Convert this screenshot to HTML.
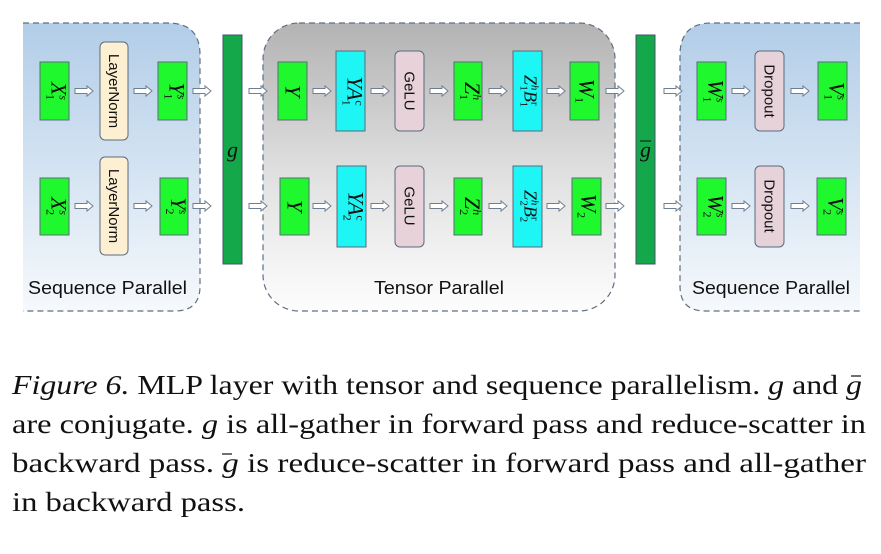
<!DOCTYPE html>
<html><head><meta charset="utf-8"><style>
html,body{margin:0;padding:0;background:#fff;}
svg{display:block;}
</style></head><body>
<svg width="881" height="554" viewBox="0 0 881 554" xmlns="http://www.w3.org/2000/svg">
<defs>
<linearGradient id="blue" x1="0" y1="0" x2="0" y2="1">
<stop offset="0" stop-color="#b2cde8"/><stop offset="1" stop-color="#f6f9fc"/>
</linearGradient>
<linearGradient id="gray" x1="0" y1="0" x2="0" y2="1">
<stop offset="0" stop-color="#b3b3b3"/><stop offset="0.55" stop-color="#e2e2e2"/><stop offset="1" stop-color="#fdfdfd"/>
</linearGradient>
<g id="arr"><path d="M0,-2.5 L12,-2.5 L12,-5 L18,0 L12,5 L12,2.5 L0,2.5 Z" fill="#fff" stroke="#6f7f90" stroke-width="1"/></g>
</defs>
<path d="M23,23 L168,23 Q200,23 200,55 L200,286 Q200,311 175,311 L23,311 Z" fill="url(#blue)"/>
<path d="M23,23 L168,23 Q200,23 200,55 L200,286 Q200,311 175,311 L23,311" fill="none" stroke="#5f6f80" stroke-width="1.2" stroke-dasharray="6,4"/>
<rect x="263" y="23" width="352" height="288" rx="36" fill="url(#gray)" stroke="#5f6f80" stroke-width="1.2" stroke-dasharray="6,4"/>
<path d="M860,23 L712,23 Q680,23 680,55 L680,286 Q680,311 705,311 L860,311 Z" fill="url(#blue)"/>
<path d="M860,23 L712,23 Q680,23 680,55 L680,286 Q680,311 705,311 L860,311" fill="none" stroke="#5f6f80" stroke-width="1.2" stroke-dasharray="6,4"/>

<g font-family="Liberation Sans, DejaVu Sans, sans-serif" font-size="18" fill="#111">
<text x="28" y="294" textLength="159" lengthAdjust="spacingAndGlyphs">Sequence Parallel</text>
<text x="374" y="294" textLength="130" lengthAdjust="spacingAndGlyphs">Tensor Parallel</text>
<text x="692" y="294" textLength="158" lengthAdjust="spacingAndGlyphs">Sequence Parallel</text>
</g>

<rect x="223" y="35" width="19" height="229" fill="#14a84b" stroke="#41546a" stroke-width="1"/>
<rect x="636" y="35" width="19" height="229" fill="#14a84b" stroke="#41546a" stroke-width="1"/>
<text x="232.5" y="157" font-family="Liberation Serif, serif" font-style="italic" font-size="22" text-anchor="middle" fill="#111">g</text>
<text x="645.5" y="157" font-family="Liberation Serif, serif" font-style="italic" font-size="22" text-anchor="middle" fill="#111">g</text>
<line x1="640" y1="141" x2="651" y2="141" stroke="#111" stroke-width="1"/>

<g stroke="#5a6b7c" stroke-width="1">
<rect x="40" y="62" width="29" height="58" fill="#1ff82c"/>
<rect x="100" y="42" width="28" height="98" rx="5" fill="#fdf0d2"/>
<rect x="158" y="62" width="29" height="58" fill="#1ff82c"/>
<rect x="278" y="62" width="29" height="58" fill="#1ff82c"/>
<rect x="336" y="51" width="29" height="80" fill="#1ef6f6"/>
<rect x="395" y="51" width="29" height="80" rx="5" fill="#e8d2da"/>
<rect x="454" y="62" width="28" height="58" fill="#1ff82c"/>
<rect x="513" y="51" width="29" height="80" fill="#1ef6f6"/>
<rect x="570" y="62" width="29" height="58" fill="#1ff82c"/>
<rect x="697" y="62" width="29" height="58" fill="#1ff82c"/>
<rect x="755" y="51" width="29" height="80" rx="5" fill="#e8d2da"/>
<rect x="818" y="62" width="29" height="58" fill="#1ff82c"/>
<rect x="40" y="178" width="29" height="57" fill="#1ff82c"/>
<rect x="100" y="157" width="28" height="98" rx="5" fill="#fdf0d2"/>
<rect x="160" y="178" width="28" height="57" fill="#1ff82c"/>
<rect x="280" y="178" width="29" height="57" fill="#1ff82c"/>
<rect x="337" y="166" width="29" height="81" fill="#1ef6f6"/>
<rect x="395" y="166" width="29" height="81" rx="5" fill="#e8d2da"/>
<rect x="454" y="178" width="28" height="57" fill="#1ff82c"/>
<rect x="513" y="166" width="29" height="81" fill="#1ef6f6"/>
<rect x="572" y="178" width="29" height="57" fill="#1ff82c"/>
<rect x="697" y="178" width="29" height="57" fill="#1ff82c"/>
<rect x="755" y="166" width="29" height="81" rx="5" fill="#e8d2da"/>
<rect x="817" y="178" width="29" height="57" fill="#1ff82c"/>
</g>

<g font-family="Liberation Sans, DejaVu Sans, sans-serif" font-size="15" fill="#111" text-anchor="middle">
<text transform="translate(114,91) rotate(90)" dy="5">LayerNorm</text>
<text transform="translate(114,206) rotate(90)" dy="5">LayerNorm</text>
<text transform="translate(409.5,91) rotate(90)" dy="5">GeLU</text>
<text transform="translate(409.5,206) rotate(90)" dy="5">GeLU</text>
<text transform="translate(769.5,91) rotate(90)" dy="5">Dropout</text>
<text transform="translate(769.5,206) rotate(90)" dy="5">Dropout</text>
</g>
<g font-family="Liberation Serif, DejaVu Serif, serif" fill="#111" text-anchor="middle">
<g font-size="22">
<text transform="translate(54.5,91) rotate(90)" dy="3"><tspan font-style="italic">X</tspan><tspan font-size="12" dy="-8" font-style="italic">s</tspan><tspan font-size="12" dx="-6" dy="13">1</tspan></text>
<text transform="translate(54.5,206) rotate(90)" dy="3"><tspan font-style="italic">X</tspan><tspan font-size="12" dy="-8" font-style="italic">s</tspan><tspan font-size="12" dx="-6" dy="13">2</tspan></text>
<text transform="translate(172.5,91) rotate(90)" dy="3"><tspan font-style="italic">Y</tspan><tspan font-size="12" dy="-8" font-style="italic">s</tspan><tspan font-size="12" dx="-6" dy="13">1</tspan></text>
<text transform="translate(174,206) rotate(90)" dy="3"><tspan font-style="italic">Y</tspan><tspan font-size="12" dy="-8" font-style="italic">s</tspan><tspan font-size="12" dx="-6" dy="13">2</tspan></text>
<text transform="translate(292.5,91) rotate(90)" dy="7" font-style="italic">Y</text>
<text transform="translate(294.5,206) rotate(90)" dy="7" font-style="italic">Y</text>
<text transform="translate(350.5,91) rotate(90)" dy="3"><tspan font-style="italic">YA</tspan><tspan font-size="12" dy="-8">c</tspan><tspan font-size="12" dx="-6" dy="13">1</tspan></text>
<text transform="translate(351.5,206) rotate(90)" dy="3"><tspan font-style="italic">YA</tspan><tspan font-size="12" dy="-8">c</tspan><tspan font-size="12" dx="-6" dy="13">2</tspan></text>
<text transform="translate(468,91) rotate(90)" dy="3"><tspan font-style="italic">Z</tspan><tspan font-size="12" dy="-8" font-style="italic">h</tspan><tspan font-size="12" dx="-6" dy="13">1</tspan></text>
<text transform="translate(468,206) rotate(90)" dy="3"><tspan font-style="italic">Z</tspan><tspan font-size="12" dy="-8" font-style="italic">h</tspan><tspan font-size="12" dx="-6" dy="13">2</tspan></text>
<text transform="translate(527.5,91) rotate(90)" dy="3" font-size="18"><tspan font-style="italic">Z</tspan><tspan font-size="11" dy="-7" font-style="italic">h</tspan><tspan font-size="11" dx="-5" dy="11">1</tspan><tspan font-style="italic" dy="-4">B</tspan><tspan font-size="11" dy="-7">r</tspan><tspan font-size="11" dx="-4" dy="11">1</tspan></text>
<text transform="translate(527.5,206) rotate(90)" dy="3" font-size="18"><tspan font-style="italic">Z</tspan><tspan font-size="11" dy="-7" font-style="italic">h</tspan><tspan font-size="11" dx="-5" dy="11">2</tspan><tspan font-style="italic" dy="-4">B</tspan><tspan font-size="11" dy="-7">r</tspan><tspan font-size="11" dx="-4" dy="11">2</tspan></text>
<text transform="translate(584.5,91) rotate(90)" dy="5"><tspan font-style="italic">W</tspan><tspan font-size="12" dy="4">1</tspan></text>
<text transform="translate(586.5,206) rotate(90)" dy="5"><tspan font-style="italic">W</tspan><tspan font-size="12" dy="4">2</tspan></text>
<text transform="translate(711.5,91) rotate(90)" dy="3"><tspan font-style="italic">W</tspan><tspan font-size="12" dy="-8" font-style="italic">s</tspan><tspan font-size="12" dx="-6" dy="13">1</tspan></text>
<text transform="translate(711.5,206) rotate(90)" dy="3"><tspan font-style="italic">W</tspan><tspan font-size="12" dy="-8" font-style="italic">s</tspan><tspan font-size="12" dx="-6" dy="13">2</tspan></text>
<text transform="translate(832.5,91) rotate(90)" dy="3"><tspan font-style="italic">V</tspan><tspan font-size="12" dy="-8" font-style="italic">s</tspan><tspan font-size="12" dx="-6" dy="13">1</tspan></text>
<text transform="translate(831.5,206) rotate(90)" dy="3"><tspan font-style="italic">V</tspan><tspan font-size="12" dy="-8" font-style="italic">s</tspan><tspan font-size="12" dx="-6" dy="13">2</tspan></text>
</g>
</g>

<g>
<use href="#arr" x="75" y="91"/><use href="#arr" x="134" y="91"/><use href="#arr" x="193" y="91"/>
<use href="#arr" x="249" y="91"/><use href="#arr" x="313" y="91"/><use href="#arr" x="371" y="91"/>
<use href="#arr" x="430" y="91"/><use href="#arr" x="489" y="91"/><use href="#arr" x="547" y="91"/>
<use href="#arr" x="606" y="91"/><use href="#arr" x="664" y="91"/><use href="#arr" x="732" y="91"/>
<use href="#arr" x="791" y="91"/>
<use href="#arr" x="75" y="206"/><use href="#arr" x="134" y="206"/><use href="#arr" x="193" y="206"/>
<use href="#arr" x="249" y="206"/><use href="#arr" x="313" y="206"/><use href="#arr" x="371" y="206"/>
<use href="#arr" x="430" y="206"/><use href="#arr" x="489" y="206"/><use href="#arr" x="547" y="206"/>
<use href="#arr" x="606" y="206"/><use href="#arr" x="664" y="206"/><use href="#arr" x="732" y="206"/>
<use href="#arr" x="791" y="206"/>
</g>

<g font-family="Liberation Serif, serif" font-size="27" fill="#111">
<text x="12" y="394" textLength="850" lengthAdjust="spacingAndGlyphs"><tspan font-style="italic">Figure 6.</tspan> MLP layer with tensor and sequence parallelism. <tspan font-style="italic">g</tspan> and <tspan font-style="italic">g</tspan></text>
<text x="12" y="433" textLength="854" lengthAdjust="spacingAndGlyphs">are conjugate. <tspan font-style="italic">g</tspan> is all-gather in forward pass and reduce-scatter in</text>
<text x="12" y="472" textLength="854" lengthAdjust="spacingAndGlyphs">backward pass. <tspan font-style="italic">g</tspan> is reduce-scatter in forward pass and all-gather</text>
<text x="12" y="511" textLength="233" lengthAdjust="spacingAndGlyphs">in backward pass.</text>
</g>
<line x1="851" y1="376" x2="861" y2="376" stroke="#111" stroke-width="1.2"/>
<line x1="222" y1="454" x2="232" y2="454" stroke="#111" stroke-width="1.2"/>
</svg>
</body></html>
